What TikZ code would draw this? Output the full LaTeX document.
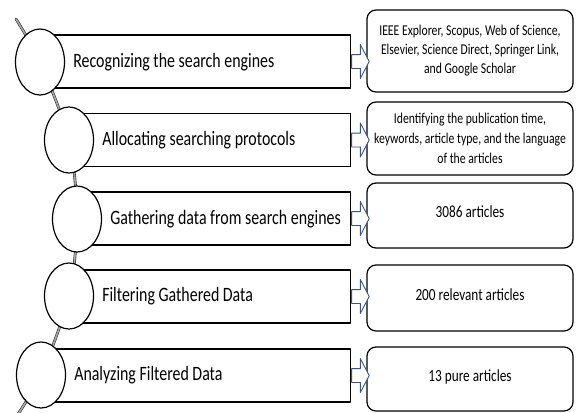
\documentclass[tikz,border=0pt]{standalone}
\usepackage{fontspec}
\setmainfont{Carlito}[FakeStretch=0.78]
\usetikzlibrary{positioning,shapes.geometric,shapes.arrows}
\definecolor{arrowblue}{HTML}{3B5488}

\begin{document}
\begin{tikzpicture}[x=1pt, y=-1pt, line join=round, line cap=round,
	band/.style={draw, fill=white, line width=1.2pt, minimum height=53pt, anchor=west, inner sep=0pt},
	bead/.style={ellipse, draw, fill=white, line width=1.2pt, minimum width=49pt, minimum height=66pt, inner sep=0pt},
	steptext/.style={font=\fontsize{20.4}{24}\selectfont, inner sep=0pt, anchor=west},
	result/.style={draw, fill=white, rounded corners=9pt, line width=1.2pt, minimum width=206pt, align=center},
	count/.style={result, font=\fontsize{17}{20}\selectfont, text height=12pt, text depth=7.2pt},
	arr/.style={single arrow, draw=arrowblue, line width=0.9pt, fill=white, minimum height=17pt, inner sep=6.5pt, single arrow head extend=10pt, single arrow tip angle=125, anchor=tail},
	link/.style={draw=black!80, line width=0.6pt, double=black!35, double distance=1.6pt}]
		\useasboundingbox (0,0) rectangle (577,412);
		%\draw[color=gray!50,dashed] (0,0) grid[step=50] (577,412);
		\coordinate (top) at (16,19);
		\coordinate (p1) at (40,62);
		\coordinate (p2) at (69,140);
		\coordinate (p3) at (77,219);
		\coordinate (p4) at (69,296);
		\coordinate (p5) at (41,375);
		\coordinate (bottom) at (14,420);
		\draw[link] plot[smooth] coordinates {(top) (p1) (p2) (p3) (p4) (p5) (bottom)};
		% bands
		\node[band, minimum width=310pt] (b1) at (40,61.5) {};
		\node[band, minimum width=281pt] (b2) at (69,140) {};
		\node[band, minimum width=273pt] (b3) at (77,218.5) {};
		\node[band, minimum width=281pt] (b4) at (69,296.5) {};
		\node[band, minimum width=309pt] (b5) at (41,375.5) {};
		% circles
		\node[bead] (c1) at (p1) {};
		\node[bead] (c2) at (p2) {};
		\node[bead] (c3) at (p3) {};
		\node[bead] (c4) at (p4) {};
		\node[bead] (c5) at (p5) {};
		\node[steptext, right=8pt of c1] (t1) {Recognizing the search engines};
		\node[steptext, right=8pt of c2] (t2) {Allocating searching protocols};
		\node[steptext, right=8pt of c3] (t3) {Gathering data from search engines};
		\node[steptext, right=8pt of c4] (t4) {Filtering Gathered Data};
		\node[steptext, right=8pt of c5] (t5) {Analyzing Filtered Data};
		% results
		\node[result, minimum height=82pt, font=\fontsize{15}{19}\selectfont] (r1) at (470,51) {IEEE Explorer, Scopus, Web of Science,\\Elsevier, Science Direct, Springer Link,\\and Google Scholar};
		\node[result, minimum height=73pt, font=\fontsize{15}{20}\selectfont] (r2) at (470,138.5) {Identifying the publication time,\\keywords, article type, and the language\\of the articles};
		\node[count, minimum height=65pt] (r3) at (470,215.5) {3086 articles};
		\node[count, minimum height=66pt] (r4) at (470,298) {200 relevant articles};
		\node[count, minimum height=64pt] (r5) at (470,379) {13 pure articles};
		% arrows
		\node[arr] (a1) at (b1.east) {};
		\node[arr] (a2) at (b2.east) {};
		\node[arr] (a3) at (b3.east) {};
		\node[arr] (a4) at (b4.east) {};
		\node[arr] (a5) at (b5.east) {};
\end{tikzpicture}
\end{document}
